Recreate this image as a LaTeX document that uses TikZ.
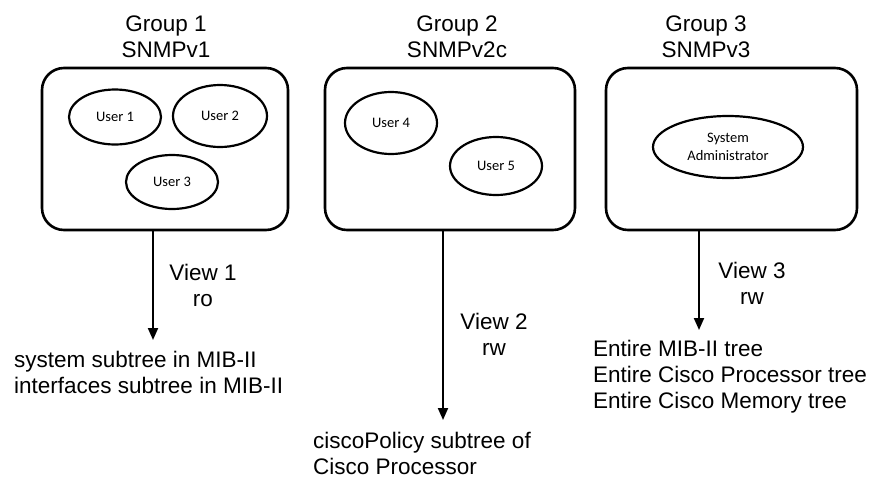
\documentclass[tikz,border=0pt]{standalone}
\usepackage{fontspec}
\setmainfont{Liberation Sans}
\newfontfamily\userfont{Carlito}
\usetikzlibrary{shapes.geometric,arrows.meta}

\tikzset{
  groupbox/.style={draw, line width=2.6pt, rounded corners=22pt, minimum width=246pt, minimum height=162pt, inner sep=0pt},
  user/.style={draw, ellipse, line width=2.2pt, inner sep=0pt, align=center, font=\userfont\fontsize{14.5}{17.5}\selectfont},
  caption/.style={inner sep=0pt, font=\fontsize{22.5}{26}\selectfont},
  flow/.style={->, line width=2pt},
}

\begin{document}
\begin{tikzpicture}[x=1pt, y=-1pt, >={Triangle[length=12pt,width=10pt]}]
\useasboundingbox (0,0) rectangle (873,477);

% the three groups
\node[groupbox] (g1) at (165,149) {};
\node[groupbox, minimum width=250pt] (g2) at (450,149) {};
\node[groupbox, minimum width=251pt] (g3) at (731.5,149) {};

% base anchor sits on the last line
\node[caption, align=center, anchor=base] (t1) at (166,57) {Group 1\\SNMPv1};
\node[caption, align=center, anchor=base] (t2) at (457,57) {Group 2\\SNMPv2c};
\node[caption, align=center, anchor=base] (t3) at (706,57) {Group 3\\SNMPv3};

% users in each group
\node[user, minimum width=92pt, minimum height=55pt] (u1) at (115,117) {User 1};
\node[user, minimum width=94pt, minimum height=62pt] (u2) at (220,116) {User 2};
\node[user, minimum width=92pt, minimum height=54pt] (u3) at (172,182) {User 3};
\node[user, minimum width=92pt, minimum height=62pt] (u4) at (391,123) {User 4};
\node[user, minimum width=92pt, minimum height=58pt] (u5) at (496,166) {User 5};
\node[user, minimum width=150pt, minimum height=62pt] (admin) at (728,147) {System\\Administrator};

% views
\coordinate (v1) at (153,340);
\coordinate (v2) at (443,420);
\coordinate (v3) at (699,330);

\draw[flow] (g1.south -| v1) -- (v1);
\draw[flow] (g2.south -| v2) -- (v2);
\draw[flow] (g3.south -| v3) -- (v3);

\node[caption, align=center, anchor=base] (l1) at (203,306) {View 1\\ro};
\node[caption, align=center, anchor=base] (l2) at (494,355) {View 2\\rw};
\node[caption, align=center, anchor=base] (l3) at (752,304) {View 3\\rw};

% MIB trees reached by each view
\node[caption, align=left, anchor=base west] (m1) at (14,393) {system subtree in MIB-II\\interfaces subtree in MIB-II};
\node[caption, align=left, anchor=base west] (m2) at (313,474) {ciscoPolicy subtree of\\Cisco Processor};
\node[caption, align=left, anchor=base west] (m3) at (593,408) {Entire MIB-II tree\\Entire Cisco Processor tree\\Entire Cisco Memory tree};
\end{tikzpicture}
\end{document}
